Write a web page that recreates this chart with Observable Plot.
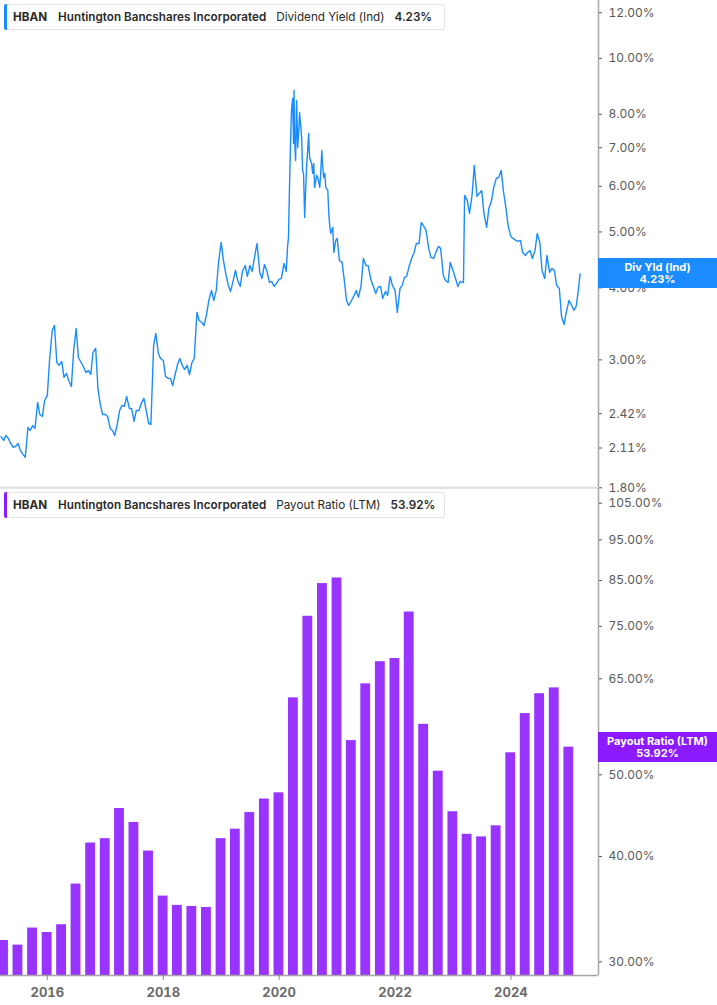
<!DOCTYPE html>
<html><head><meta charset="utf-8">
<script src="https://cdn.jsdelivr.net/npm/d3@7"></script>
<script src="https://cdn.jsdelivr.net/npm/@observablehq/plot@0.6"></script>
<style>
body{margin:0;background:#fff;font-family:Inter,"Noto Sans",sans-serif;}
#wrap{position:relative;width:717px;height:1005px;overflow:hidden;background:#fff}
.panel{position:absolute;left:0;}
.hdr{position:absolute;left:4px;height:26px;width:441px;box-sizing:border-box;border:1px solid #e3e3e3;border-radius:3px;background:#fff;display:flex;align-items:center;font-size:11.7px;color:#2a2a2a;padding-left:8px;white-space:nowrap}
.hdr .acc{position:absolute;left:-1px;top:-1px;bottom:-1px;width:3px;border-radius:2px 0 0 2px}
.hdr span{margin-right:10px}
.hdr b{font-weight:600;margin-right:10px}
.hdr b.tk{font-weight:700;margin-right:11px}
.tag{position:absolute;left:598px;width:119px;height:30px;color:#fff;font-weight:700;font-size:11px;text-align:center;line-height:12px;display:flex;flex-direction:column;justify-content:center}
</style></head>
<body><div id="wrap"></div>
<script>
// ---------- Dividend yield (Ind), % ----------
const yield2015 = [["03-15",2.209],["04-01",2.175],["04-15",2.218],["05-01",2.192],["05-15",2.149],["06-01",2.115],["06-15",2.123],["07-01",2.149],["07-15",2.090],["08-01",2.057],["08-15",2.032],["09-01",2.290],["09-15",2.263],["10-01",2.308],["10-15",2.28],["11-01",2.531],["11-15",2.412],["12-01",2.393],["12-15",2.551]];
const yield2016 = [["01-01",2.603],["01-15",2.993],["02-01",3.374],["02-15",3.442],["03-01",2.969],["03-15",2.934],["04-01",2.981],["04-15",2.797],["05-01",2.842],["05-15",2.763],["06-01",2.698],["06-15",3.115],["07-01",3.401],["07-15",3.029],["08-01",2.969],["08-15",2.922],["09-01",2.853],["09-15",2.876],["10-01",2.830],["10-15",3.090],["11-01",3.140],["11-15",2.676],["12-01",2.501],["12-15",2.412]];
const yield2017 = [["01-01",2.412],["01-15",2.393],["02-01",2.281],["02-15",2.263],["03-01",2.218],["03-15",2.308],["04-01",2.451],["04-15",2.501],["05-01",2.491],["05-15",2.592],["06-01",2.471],["06-15",2.471],["07-01",2.346],["07-15",2.451],["08-01",2.451],["08-15",2.521],["09-01",2.572],["09-15",2.451],["10-01",2.327],["10-15",2.318],["11-01",3.178],["11-15",3.334],["12-01",3.078],["12-15",3.017]];
const yield2018 = [["01-01",2.993],["01-15",2.808],["02-01",2.786],["02-15",2.786],["03-01",2.708],["03-15",2.819],["04-01",2.946],["04-15",3.017],["05-01",2.934],["05-15",2.887],["06-01",2.934],["06-15",2.830],["07-01",2.969],["07-15",3.017],["08-01",3.626],["08-15",3.511],["09-01",3.483],["09-15",3.442],["10-01",3.597],["10-15",3.803],["11-01",3.959],["11-15",3.803],["12-01",3.959],["12-15",4.427]];
const yield2019 = [["01-01",4.796],["01-15",4.462],["02-01",4.203],["02-15",4.039],["03-01",3.943],["03-15",4.087],["04-01",4.288],["04-15",4.120],["05-01",4.022],["05-15",4.271],["06-01",4.374],["06-15",4.186],["07-01",4.374],["07-15",4.271],["08-01",4.552],["08-15",4.776],["09-01",4.254],["09-15",4.153],["10-01",4.391],["10-15",4.288],["11-01",4.087],["11-15",4.104],["12-01",4.022],["12-15",4.071]];
const yield2020 = [["01-01",4.136],["01-15",4.153],["02-01",4.409],["02-15",4.271],["02-23",4.701],["02-29",4.892],["03-07",6.069],["03-13",7.149],["03-19",8.123],["03-26",8.521],["04-01",7.120],["04-04",8.798],["04-08",7.206],["04-14",6.653],["04-20",8.454],["04-27",7.007],["05-03",7.410],["05-09",8.058],["05-22",7.292],["05-28",6.393],["06-03",6.317],["06-10",5.299],["06-16",5.902],["06-22",6.470],["06-29",6.924],["07-05",7.410],["07-11",6.733],["07-24",6.574],["07-30",6.317],["08-06",6.574],["08-12",5.973],["08-25",6.267],["08-31",6.217],["09-13",5.973],["09-19",6.317],["09-26",6.924],["10-02",6.470],["10-08",6.217],["10-15",6.317],["10-21",5.973],["11-03",5.902],["11-09",5.384],["11-16",5.092],["11-22",4.971],["12-04",5.092],["12-11",4.607],["12-23",4.834]];
const yield2021 = [["01-01",4.873],["01-15",4.462],["02-01",4.427],["02-15",4.120],["03-01",3.803],["03-15",3.728],["04-01",3.803],["04-15",3.865],["05-01",3.959],["05-15",3.850],["06-01",4.039],["06-15",4.498],["07-01",4.374],["07-15",4.374],["08-01",4.136],["08-15",4.039],["09-01",3.912],["09-15",4.006],["10-01",4.022],["10-15",3.834],["11-01",3.943],["11-15",3.881],["12-01",4.186],["12-15",4.039]];
const yield2022 = [["01-01",3.959],["01-15",3.626],["02-01",3.991],["02-15",4.039],["03-01",4.170],["03-15",4.186],["04-01",4.374],["04-15",4.498],["05-01",4.607],["05-15",4.776],["06-01",4.776],["06-15",5.194],["07-01",5.112],["07-15",5.031],["08-01",4.682],["08-15",4.516],["09-01",4.498],["09-15",4.607],["10-01",4.720],["10-15",4.682],["11-01",4.203],["11-15",4.120],["12-01",4.087],["12-15",4.427]];
const yield2023 = [["01-01",4.288],["01-15",4.170],["02-01",4.022],["02-15",4.104],["03-01",4.087],["03-08",4.087],["03-15",5.785],["04-01",5.671],["04-15",5.384],["05-01",5.785],["05-15",6.521],["06-01",5.762],["06-15",5.832],["07-01",5.902],["07-15",5.384],["08-01",5.092],["08-15",5.493],["09-01",5.671],["09-15",5.973],["10-01",6.192],["10-15",6.217],["11-01",6.393],["11-15",5.878],["12-01",5.493],["12-15",5.112]];
const yield2024 = [["01-01",4.912],["01-15",4.873],["02-01",4.834],["02-15",4.815],["03-01",4.834],["03-15",4.607],["04-01",4.552],["04-15",4.607],["05-01",4.644],["05-15",4.498],["06-01",4.644],["06-15",4.971],["07-01",4.796],["07-15",4.288],["08-01",4.153],["08-15",4.552],["09-01",4.254],["09-15",4.322],["10-01",4.288],["10-15",4.039],["11-01",3.990],["11-15",3.568],["12-01",3.455],["12-15",3.626]];
const yield2025 = [["01-01",3.803],["01-15",3.743],["02-01",3.655],["02-15",3.713],["03-01",3.959],["03-12",4.23]];

// ---------- Payout ratio (LTM), %, quarter ends ----------
const quarterEnds = ["2015-03-31","2015-06-30","2015-09-30","2015-12-31","2016-03-31","2016-06-30","2016-09-30","2016-12-31","2017-03-31","2017-06-30","2017-09-30","2017-12-31","2018-03-31","2018-06-30","2018-09-30","2018-12-31","2019-03-31","2019-06-30","2019-09-30","2019-12-31","2020-03-31","2020-06-30","2020-09-30","2020-12-31","2021-03-31","2021-06-30","2021-09-30","2021-12-31","2022-03-31","2022-06-30","2022-09-30","2022-12-31","2023-03-31","2023-06-30","2023-09-30","2023-12-31","2024-03-31","2024-06-30","2024-09-30","2024-12-31"];
const payoutRatio = [31.8,31.4,32.9,32.5,33.2,37.1,41.5,42.0,45.6,43.9,40.6,35.9,35.0,34.9,34.8,42.0,43.1,45.1,46.8,47.6,61.7,77.1,84.3,85.6,54.9,64.1,68.1,68.7,78.0,57.4,50.5,45.2,42.5,42.2,43.5,53.1,59.1,62.4,63.4,53.92];

const yieldTicks = [12,10,8,7,6,5,4,3,2.42,2.11,1.80];
const payoutTicks = [105,95,85,75,65,50,40,30];
const yearTicks = ["2016","2018","2020","2022","2024"];

const ticker = "HBAN", company = "Huntington Bancshares Incorporated";
const lastYield = 4.23, lastPayout = 53.92;

// ---------- build ----------
const byYear = {2015:yield2015,2016:yield2016,2017:yield2017,2018:yield2018,2019:yield2019,2020:yield2020,2021:yield2021,2022:yield2022,2023:yield2023,2024:yield2024,2025:yield2025};
const divYield = Object.entries(byYear).flatMap(([y, arr]) => arr.map(([md, v]) => ({date: new Date(`${y}-${md}`), value: v})));
const payout = quarterEnds.map((d, i) => ({date: new Date(d), value: payoutRatio[i]}));

const xDomain = [new Date("2015-03-12"), new Date("2025-07-06")];
const pct = d => d.toFixed(2) + "%";
const FONT = "Inter, 'Noto Sans', sans-serif";

const yMin1 = 1.8, yMax1 = 12.6;
const topChart = Plot.plot({
  width: 717, height: 488, marginLeft: 0, marginRight: 119, marginTop: 0, marginBottom: 0.7,
  style: {fontFamily: FONT, fontSize: "12px", color: "#5a5a5a", background: "transparent", overflow: "visible"},
  x: {type: "utc", domain: xDomain, axis: null},
  y: {type: "log", domain: [yMin1, yMax1]},
  marks: [
    Plot.ruleY([yMin1], {stroke: "#dcdcdc", strokeWidth: 2}),
    Plot.line(divYield, {x: "date", y: "value", stroke: "#1a8cff", strokeWidth: 1.4, curve: "linear"}),
    Plot.ruleX([xDomain[1]], {stroke: "#a6a6a6", strokeWidth: 1.5}),
    Plot.axisY({anchor: "right", ticks: yieldTicks, tickFormat: pct, tickSize: 3, tickPadding: 7, stroke: "#555", fill: "#585858", fontSize: 12, label: null})
  ]
});

const yMin2 = 28.9, yMax2 = 109.3;
const botChart = Plot.plot({
  width: 717, height: 517, marginLeft: 0, marginRight: 119, marginTop: 0, marginBottom: 30,
  style: {fontFamily: FONT, fontSize: "12px", color: "#5a5a5a", background: "transparent", overflow: "visible"},
  x: {type: "utc", domain: xDomain},
  y: {type: "log", domain: [yMin2, yMax2]},
  marks: [
    Plot.rectY(payout, {x1: d => d3.utcDay.offset(d.date, -31), x2: d => d3.utcDay.offset(d.date, 31), y1: yMin2, y2: "value", fill: "#9933ff"}),
    Plot.ruleY([yMin2], {stroke: "#a6a6a6", strokeWidth: 1.5}),
    Plot.ruleX([xDomain[1]], {stroke: "#a6a6a6", strokeWidth: 1.5}),
    Plot.axisY({anchor: "right", ticks: payoutTicks, tickFormat: pct, tickSize: 3, tickPadding: 7, stroke: "#555", fill: "#585858", fontSize: 12, label: null}),
    Plot.axisX({anchor: "bottom", ticks: yearTicks.map(y => new Date(y + "-01-01")), tickFormat: d3.utcFormat("%Y"), tickSize: 5, tickPadding: 7, stroke: "#8a8a8a", fill: "#6b6b6b", fontSize: 13, fontWeight: "bold", label: null})
  ]
});

const wrap = document.getElementById("wrap");
function panel(chart, top) {
  const d = document.createElement("div");
  d.className = "panel"; d.style.top = top + "px";
  d.appendChild(chart); wrap.appendChild(d);
}
panel(topChart, 0);
panel(botChart, 488);

function header(top, color, metric, value) {
  const h = document.createElement("div");
  h.className = "hdr"; h.style.top = top + "px";
  h.innerHTML = `<div class="acc" style="background:${color}"></div><b class="tk">${ticker}</b><b>${company}</b><span>${metric}</span><b>${value}</b>`;
  wrap.appendChild(h);
}
header(4, "#1a8cff", "Dividend Yield (Ind)", pct(lastYield));
header(492, "#8c1aff", "Payout Ratio (LTM)", pct(lastPayout));

function tag(yPos, color, label, value) {
  const t = document.createElement("div");
  t.className = "tag"; t.style.top = (yPos - 15) + "px"; t.style.background = color;
  t.innerHTML = `<div>${label}</div><div>${value}</div>`;
  wrap.appendChild(t);
}
tag(topChart.scale("y").apply(lastYield), "#1a8cff", "Div Yld (Ind)", pct(lastYield));
tag(488 + botChart.scale("y").apply(lastPayout), "#8c1aff", "Payout Ratio (LTM)", pct(lastPayout));
</script></body></html>
